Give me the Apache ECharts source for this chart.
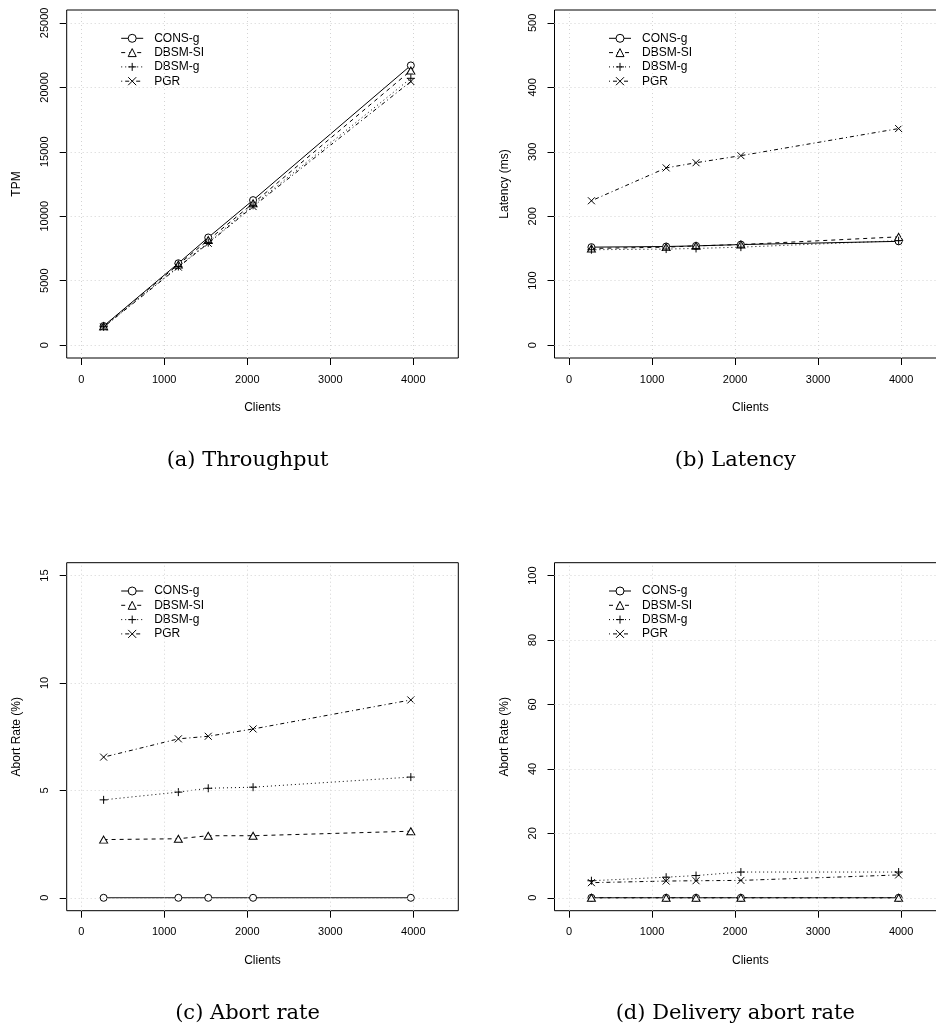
<!DOCTYPE html>
<html>
<head>
<meta charset="utf-8">
<script src="https://cdn.jsdelivr.net/npm/echarts@6/dist/echarts.min.js"></script>
<style>
  html, body { margin: 0; padding: 0; background: #fff; }
  #main { width: 936px; height: 1028px; }
</style>
</head>
<body>
<div id="main"></div>
<script>
// number of clients, same for all four plots
var clients = [270, 1170, 1530, 2070, 3970];
var seriesNames = ['CONS-g', 'DBSM-SI', 'DBSM-g', 'PGR'];
var xTicks = [0, 1000, 2000, 3000, 4000];

// (a) throughput (TPM)
var tpmCons = [1480, 6350, 8350, 11250, 21700];
var tpmDbsmSi = [1470, 6250, 8150, 11000, 21300];
var tpmDbsmG = [1420, 6100, 7950, 10850, 20700];
var tpmPgr = [1400, 6050, 7900, 10750, 20450];
var tpmTicks = [0, 5000, 10000, 15000, 20000, 25000];

// (b) latency (ms)
var latCons = [152, 153, 154, 156, 161];
var latDbsmSi = [150, 152, 154, 156, 168];
var latDbsmG = [148, 149, 150, 152, 162];
var latPgr = [224, 275, 283, 294, 336];
var latTicks = [0, 100, 200, 300, 400, 500];

// (c) abort rate (%)
var abortCons = [0, 0, 0, 0, 0];
var abortDbsmSi = [2.71, 2.75, 2.89, 2.89, 3.1];
var abortDbsmG = [4.56, 4.92, 5.1, 5.15, 5.62];
var abortPgr = [6.55, 7.4, 7.52, 7.86, 9.21];
var abortTicks = [0, 5, 10, 15];

// (d) delivery abort rate (%)
var delivCons = [0, 0, 0, 0, 0];
var delivDbsmSi = [0, 0, 0, 0, 0];
var delivDbsmG = [5.3, 6.4, 6.9, 8.0, 8.0];
var delivPgr = [4.7, 5.2, 5.3, 5.4, 7.1];
var delivTicks = [0, 20, 40, 60, 80, 100];

var FONT = 'Liberation Sans';

// R style ranges: limits padded by 4% on each side
function padRange(lo, hi) {
  var d = (hi - lo) * 0.04;
  return [lo - d, hi + d];
}
var xRange = padRange(0, 4367);

var panels = [
  { title: '(a) Throughput', yName: 'TPM', ticks: tpmTicks,
    values: [tpmCons, tpmDbsmSi, tpmDbsmG, tpmPgr], left: 66.7, top: 10 },
  { title: '(b) Latency', yName: 'Latency (ms)', ticks: latTicks,
    values: [latCons, latDbsmSi, latDbsmG, latPgr], left: 554.5, top: 10 },
  { title: '(c) Abort rate', yName: 'Abort Rate (%)', ticks: abortTicks,
    values: [abortCons, abortDbsmSi, abortDbsmG, abortPgr], left: 66.7, top: 562.7 },
  { title: '(d) Delivery abort rate', yName: 'Abort Rate (%)', ticks: delivTicks,
    values: [delivCons, delivDbsmSi, delivDbsmG, delivPgr], left: 554.5, top: 562.7 }
];

// symbols / line types like R pch 1..4, lty 1..4
var styles = [
  { symbol: 'circle', size: 7, type: 'solid' },
  { symbol: 'triangle', size: [8, 7], type: [4, 4] },
  { symbol: 'path://M5,0L5,10M0,5L10,5', size: 8, type: [1, 3] },
  { symbol: 'path://M0,0L10,10M10,0L0,10', size: 7, type: [1, 3, 4, 3] }
];

var boxW = 391.6, boxH = 348, tickLen = 7;
var grids = [], xAxes = [], yAxes = [], series = [], legends = [], titles = [];

var nameStyle = { fontFamily: FONT, fontSize: 12, color: '#000' };
function plainLabel(v) { return String(v); }

// axis that only carries the tick labels
function labelAxis(gi, lo, hi, step, rotate) {
  return {
    gridIndex: gi, type: 'value', min: lo, max: hi, interval: step,
    axisLine: { show: false, onZero: false },
    axisTick: { show: false },
    axisLabel: { margin: 16, rotate: rotate, formatter: plainLabel,
      fontFamily: FONT, fontSize: 11, color: '#000' },
    splitLine: { show: false }
  };
}
function hiddenAxis(gi, lo, hi) {
  return { gridIndex: gi, type: 'value', show: false, min: lo, max: hi };
}
function stripGrid(left, top, width, height) {
  return {
    left: left, top: top, width: width, height: height,
    show: false, outerBoundsMode: 'none', containLabel: false
  };
}
// empty helper series whose markLine draws lines across its own grid
function lineSeries(gi, marks, style) {
  return {
    type: 'line', data: [], xAxisIndex: gi, yAxisIndex: gi,
    silent: true, clip: false, z: 1,
    markLine: {
      silent: true, symbol: ['none', 'none'], animation: false,
      label: { show: false }, emphasis: { disabled: true },
      lineStyle: style, data: marks
    }
  };
}

panels.forEach(function (p) {
  var yLo = p.ticks[0], yHi = p.ticks[p.ticks.length - 1];
  var yr = padRange(yLo, yHi);
  var xLo = xTicks[0], xHi = xTicks[xTicks.length - 1];
  var sx = boxW / (xRange[1] - xRange[0]);
  var sy = boxH / (yr[1] - yr[0]);
  var tkLeft = p.left + (xLo - xRange[0]) * sx, tkW = (xHi - xLo) * sx;
  var tkTop = p.top + (yr[1] - yHi) * sy, tkH = (yHi - yLo) * sy;
  var xMarks = xTicks.map(function (v) { return { xAxis: v }; });
  var yMarks = p.ticks.map(function (v) { return { yAxis: v }; });

  // plot box: data, frame, axis titles
  var box = grids.length;
  grids.push({
    left: p.left, top: p.top, width: boxW, height: boxH,
    show: true, borderColor: '#000', borderWidth: 1,
    backgroundColor: 'transparent', outerBoundsMode: 'none', containLabel: false
  });
  xAxes.push({
    gridIndex: box, type: 'value', min: xRange[0], max: xRange[1],
    name: 'Clients', nameLocation: 'middle', nameGap: 44, nameTextStyle: nameStyle,
    axisLine: { show: false, onZero: false }, axisTick: { show: false },
    axisLabel: { show: false }, splitLine: { show: false }
  });
  yAxes.push({
    gridIndex: box, type: 'value', min: yr[0], max: yr[1],
    name: p.yName, nameLocation: 'middle', nameGap: 44, nameRotate: 90, nameTextStyle: nameStyle,
    axisLine: { show: false, onZero: false }, axisTick: { show: false },
    axisLabel: { show: false }, splitLine: { show: false }
  });

  // x tick labels 0..4000 along the bottom edge
  var gx = grids.length;
  grids.push(stripGrid(tkLeft, p.top, tkW, boxH));
  xAxes.push(labelAxis(gx, xLo, xHi, xTicks[1] - xTicks[0], 0));
  yAxes.push(hiddenAxis(gx, 0, 1));

  // y tick labels along the left edge
  var gy = grids.length;
  grids.push(stripGrid(p.left, tkTop, boxW, tkH));
  xAxes.push(hiddenAxis(gy, 0, 1));
  yAxes.push(labelAxis(gy, yLo, yHi, p.ticks[1] - p.ticks[0], 90));

  // tick marks: thin strips just outside the frame
  var tx = grids.length;
  grids.push(stripGrid(tkLeft, p.top + boxH, tkW, tickLen));
  xAxes.push(hiddenAxis(tx, xLo, xHi));
  yAxes.push(hiddenAxis(tx, 0, 1));
  series.push(lineSeries(tx, xMarks, { color: '#000', width: 1, type: 'solid' }));

  var ty = grids.length;
  grids.push(stripGrid(p.left - tickLen, tkTop, tickLen, tkH));
  xAxes.push(hiddenAxis(ty, 0, 1));
  yAxes.push(hiddenAxis(ty, yLo, yHi));
  series.push(lineSeries(ty, yMarks, { color: '#000', width: 1, type: 'solid' }));

  // R grid(): light grey dotted lines at the tick positions, across the whole box
  series.push(lineSeries(box, xMarks.concat(yMarks), { color: '#d3d3d3', width: 1, type: [1, 3] }));

  seriesNames.forEach(function (name, k) {
    var st = styles[k];
    series.push({
      type: 'line', name: name, xAxisIndex: box, yAxisIndex: box,
      data: clients.map(function (c, j) { return [c, p.values[k][j]]; }),
      symbol: st.symbol, symbolSize: st.size,
      itemStyle: { color: '#fff', borderColor: '#000', borderWidth: 1 },
      lineStyle: { color: '#000', width: 1, type: st.type },
      emphasis: { disabled: true },
      z: 3
    });
  });
  legends.push({
    data: seriesNames, orient: 'vertical', selectedMode: false,
    left: p.left + 54, top: p.top + 22.3, padding: 0,
    itemWidth: 22, itemHeight: 10, itemGap: 2.3,
    itemStyle: { borderWidth: 1 },
    lineStyle: { width: 1 },
    textStyle: { fontFamily: FONT, fontSize: 12, lineHeight: 12, color: '#000', padding: [0, 0, 0, 6] }
  });
  titles.push({
    text: p.title, left: p.left + 180.8, top: p.top + 440, textAlign: 'center', padding: 0,
    textStyle: { fontFamily: 'DejaVu Serif', fontSize: 21, fontWeight: 'normal', color: '#000' }
  });
});

var chart = echarts.init(document.getElementById('main'));
chart.setOption({
  animation: false,
  backgroundColor: '#fff',
  title: titles,
  legend: legends,
  grid: grids,
  xAxis: xAxes,
  yAxis: yAxes,
  series: series
});
</script>
</body>
</html>
